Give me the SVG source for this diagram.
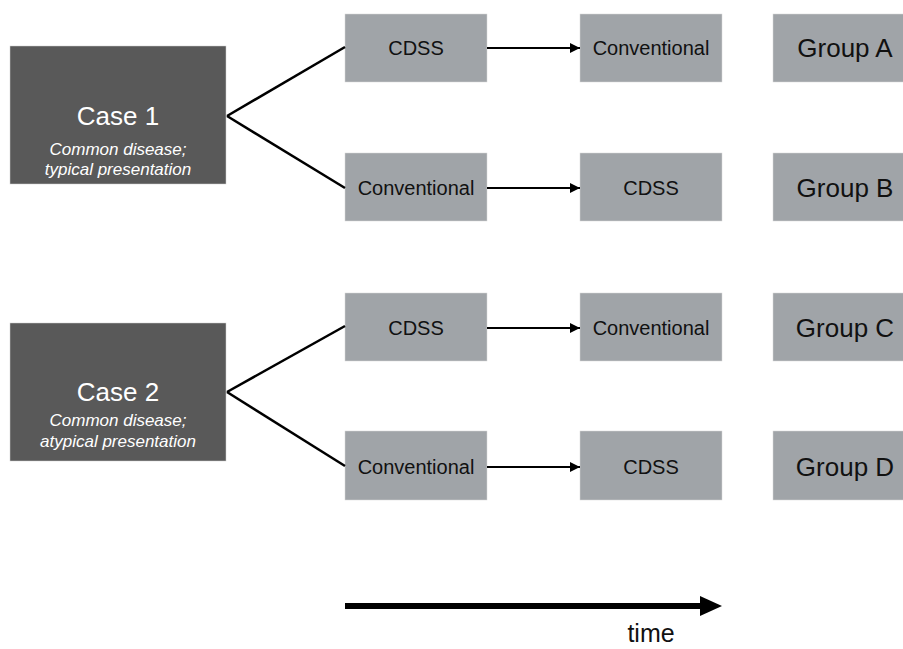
<svg xmlns="http://www.w3.org/2000/svg" width="903" height="649" viewBox="0 0 903 649">
<defs>
<style>
.case rect{fill:#595959;stroke:#d0d0d0;stroke-width:0.5}
.box rect{fill:#a0a4a8;stroke:#d8d8d8;stroke-width:0.5}
.t{font-family:"Liberation Sans",Arial,sans-serif;fill:#111;text-anchor:middle}
.ct{font-family:"Liberation Sans",Arial,sans-serif;fill:#fff;text-anchor:middle}
.small{font-size:20px}
.grp{font-size:26px}
.title{font-size:26px}
.sub{font-size:17px;font-style:italic}
.con line{stroke:#000;stroke-width:2.5;fill:none}
.con .ar{stroke-width:2;marker-end:url(#ah)}
</style>
<marker id="ah" viewBox="0 0 10 10" refX="10" refY="5" markerWidth="5" markerHeight="5" orient="auto" markerUnits="strokeWidth"><path d="M0,0 L10,5 L0,10 z" fill="#000"/></marker>
</defs>
<rect width="903" height="649" fill="#fff"/>
<g id="case1" class="case"><rect x="10" y="46" width="216" height="138"/><text class="ct title" x="118" y="125">Case 1</text><text class="ct sub" x="118" y="155">Common disease;</text><text class="ct sub" x="118" y="175">typical presentation</text></g>
<g id="case2" class="case"><rect x="10" y="323" width="216" height="138"/><text class="ct title" x="118" y="401">Case 2</text><text class="ct sub" x="118" y="426">Common disease;</text><text class="ct sub" x="118" y="447">atypical presentation</text></g>
<g id="a1" class="box"><rect x="345" y="14" width="142" height="68"/><text class="t small" x="416" y="55">CDSS</text></g>
<g id="a2" class="box"><rect x="580" y="14" width="142" height="68"/><text class="t small" x="651" y="55">Conventional</text></g>
<g id="ga" class="box"><rect x="773" y="14" width="135" height="68"/><text class="t grp" x="845" y="57">Group A</text></g>
<g id="b1" class="box"><rect x="345" y="153" width="142" height="68"/><text class="t small" x="416" y="195">Conventional</text></g>
<g id="b2" class="box"><rect x="580" y="153" width="142" height="68"/><text class="t small" x="651" y="195">CDSS</text></g>
<g id="gb" class="box"><rect x="773" y="153" width="135" height="68"/><text class="t grp" x="845" y="197">Group B</text></g>
<g id="c1" class="box"><rect x="345" y="293" width="142" height="68"/><text class="t small" x="416" y="335">CDSS</text></g>
<g id="c2" class="box"><rect x="580" y="293" width="142" height="68"/><text class="t small" x="651" y="335">Conventional</text></g>
<g id="gc" class="box"><rect x="773" y="293" width="135" height="68"/><text class="t grp" x="845" y="337">Group C</text></g>
<g id="d1" class="box"><rect x="345" y="431" width="142" height="69"/><text class="t small" x="416" y="474">Conventional</text></g>
<g id="d2" class="box"><rect x="580" y="431" width="142" height="69"/><text class="t small" x="651" y="474">CDSS</text></g>
<g id="gd" class="box"><rect x="773" y="431" width="135" height="69"/><text class="t grp" x="845" y="476">Group D</text></g>
<g id="connectors" class="con">
<line x1="227" y1="116" x2="345" y2="47"/>
<line x1="227" y1="116" x2="345" y2="188"/>
<line x1="227" y1="392" x2="345" y2="326"/>
<line x1="227" y1="392" x2="345" y2="466"/>
<line class="ar" x1="487" y1="48" x2="580" y2="48"/>
<line class="ar" x1="487" y1="188" x2="580" y2="188"/>
<line class="ar" x1="487" y1="328" x2="580" y2="328"/>
<line class="ar" x1="487" y1="467" x2="580" y2="467"/>
<line x1="345" y1="606" x2="702" y2="606" style="stroke-width:6"/>
<path d="M700,596 L722,606 L700,616 z" fill="#000"/>
</g>
<text class="t" x="651" y="642" style="font-size:25px">time</text>
</svg>
